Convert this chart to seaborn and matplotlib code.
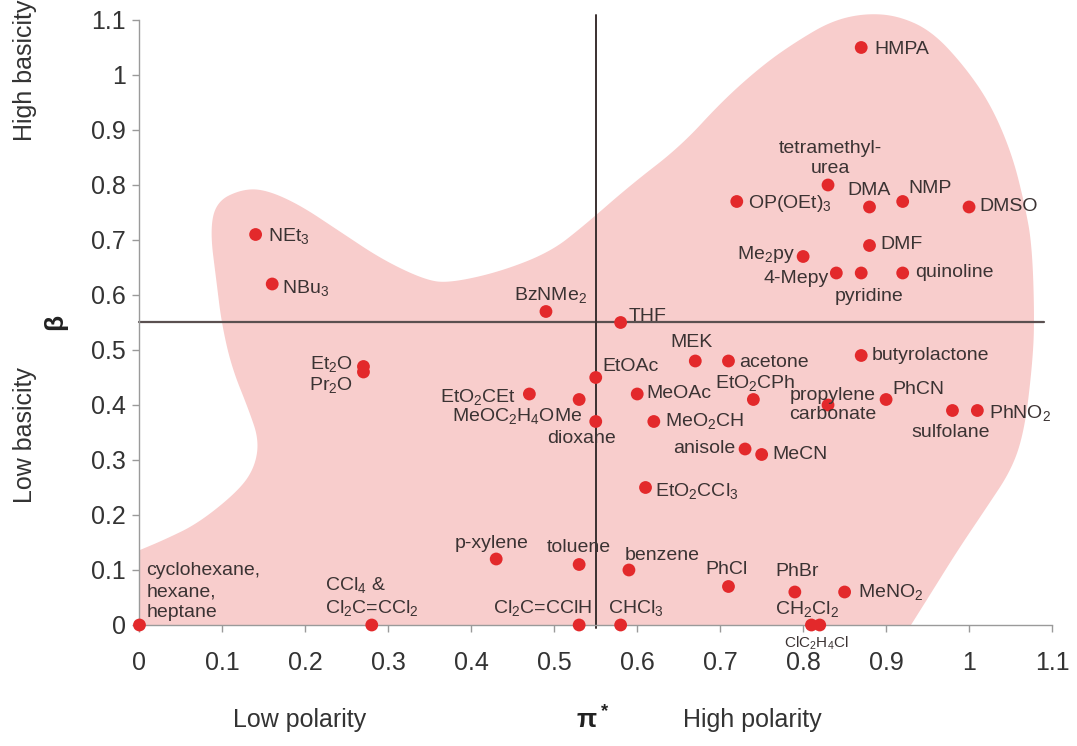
import numpy as np
import pandas as pd
import matplotlib
matplotlib.use("Agg")
import matplotlib.pyplot as plt
import seaborn as sns

# Kamlet-Taft solvent parameters: pi* (polarity) and beta (basicity)
solvents = [
    "cyclohexane", "CCl4", "p-xylene", "toluene", "benzene", "Cl2C=CClH", "CHCl3",
    "PhCl", "PhBr", "MeNO2", "CH2Cl2", "ClC2H4Cl", "MeCN", "anisole", "EtO2CCl3",
    "MeO2CH", "MeOAc", "EtO2CPh", "acetone", "MEK", "EtOAc", "dioxane",
    "MeOC2H4OMe", "EtO2CEt", "Et2O", "Pr2O", "NEt3", "NBu3", "BzNMe2", "THF",
    "HMPA", "OP(OEt)3", "tetramethylurea", "DMA", "NMP", "DMSO", "DMF", "Me2py",
    "4-Mepy", "pyridine", "quinoline", "butyrolactone", "propylene carbonate",
    "PhCN", "sulfolane", "PhNO2",
]
pi_star = [
    0.00, 0.28, 0.43, 0.53, 0.59, 0.53, 0.58,
    0.71, 0.79, 0.85, 0.82, 0.81, 0.75, 0.73, 0.61,
    0.62, 0.60, 0.74, 0.71, 0.67, 0.55, 0.55,
    0.53, 0.47, 0.27, 0.27, 0.14, 0.16, 0.49, 0.58,
    0.87, 0.72, 0.83, 0.88, 0.92, 1.00, 0.88, 0.80,
    0.84, 0.87, 0.92, 0.87, 0.83,
    0.90, 0.98, 1.01,
]
beta = [
    0.00, 0.00, 0.12, 0.11, 0.10, 0.00, 0.00,
    0.07, 0.06, 0.06, 0.00, 0.00, 0.31, 0.32, 0.25,
    0.37, 0.42, 0.41, 0.48, 0.48, 0.45, 0.37,
    0.41, 0.42, 0.47, 0.46, 0.71, 0.62, 0.57, 0.55,
    1.05, 0.77, 0.80, 0.76, 0.77, 0.76, 0.69, 0.67,
    0.64, 0.64, 0.64, 0.49, 0.40,
    0.41, 0.39, 0.39,
]
labels = {
    "cyclohexane": "cyclohexane,\nhexane,\nheptane",
    "CCl4": "CCl$_4$ &\nCl$_2$C=CCl$_2$",
    "Cl2C=CClH": "Cl$_2$C=CClH",
    "CHCl3": "CHCl$_3$",
    "MeNO2": "MeNO$_2$",
    "CH2Cl2": "CH$_2$Cl$_2$",
    "ClC2H4Cl": "ClC$_2$H$_4$Cl",
    "EtO2CCl3": "EtO$_2$CCl$_3$",
    "MeO2CH": "MeO$_2$CH",
    "EtO2CPh": "EtO$_2$CPh",
    "MeOC2H4OMe": "MeOC$_2$H$_4$OMe",
    "EtO2CEt": "EtO$_2$CEt",
    "Et2O": "Et$_2$O",
    "Pr2O": "Pr$_2$O",
    "NEt3": "NEt$_3$",
    "NBu3": "NBu$_3$",
    "BzNMe2": "BzNMe$_2$",
    "OP(OEt)3": "OP(OEt)$_3$",
    "tetramethylurea": "tetramethyl-\nurea",
    "Me2py": "Me$_2$py",
    "propylene carbonate": "propylene\ncarbonate",
    "PhNO2": "PhNO$_2$",
}

# outline of the shaded solvent region (pi*, beta)
blob_pi = [0.0, 0.03, 0.071, 0.12, 0.139, 0.144, 0.132, 0.111, 0.099, 0.093,
           0.085, 0.093, 0.123, 0.151, 0.192, 0.241, 0.293, 0.345, 0.374, 0.434,
           0.495, 0.535, 0.592, 0.652, 0.704, 0.753, 0.793, 0.834, 0.874, 0.914,
           0.955, 0.995, 1.027, 1.052, 1.067, 1.076, 1.079, 1.076, 1.067, 1.052,
           1.019, 0.986, 0.955, 0.93]
blob_beta = [0.136, 0.155, 0.185, 0.245, 0.287, 0.336, 0.39, 0.469, 0.549, 0.622,
             0.718, 0.770, 0.792, 0.792, 0.765, 0.716, 0.664, 0.627, 0.622, 0.642,
             0.678, 0.725, 0.80, 0.87, 0.955, 1.02, 1.062, 1.098, 1.112, 1.108,
             1.08, 1.015, 0.944, 0.855, 0.765, 0.691, 0.551, 0.469, 0.356, 0.284,
             0.209, 0.135, 0.06, 0.0]

pi_mid = 0.55
beta_mid = 0.55
tick_vals = [0, 0.1, 0.2, 0.3, 0.4, 0.5, 0.6, 0.7, 0.8, 0.9, 1.0, 1.1]
tick_text = ["0", "0.1", "0.2", "0.3", "0.4", "0.5", "0.6", "0.7", "0.8", "0.9", "1", "1.1"]

# label placement: offset in pixels from the point, horizontal / vertical alignment
label_pos = {
    "cyclohexane": (7, 4, "left", "bottom"),
    "CCl4": (-47, 7, "left", "bottom"),
    "p-xylene": (-5, 15, "center", "center"),
    "toluene": (0, 17, "center", "center"),
    "benzene": (-4, 14, "left", "center"),
    "Cl2C=CClH": (13, 17, "right", "center"),
    "CHCl3": (-13, 17, "left", "center"),
    "PhCl": (-2, 17, "center", "center"),
    "PhBr": (2, 20, "center", "center"),
    "MeNO2": (13, 0, "left", "center"),
    "CH2Cl2": (-13, 16, "center", "center"),
    "ClC2H4Cl": (5, -18, "center", "center"),
    "MeCN": (11, 0, "left", "center"),
    "anisole": (-10, 0, "right", "center"),
    "EtO2CCl3": (9, -4, "left", "center"),
    "MeO2CH": (11, 0, "left", "center"),
    "MeOAc": (9, 0, "left", "center"),
    "EtO2CPh": (2, 16, "center", "center"),
    "acetone": (11, -2, "left", "center"),
    "MEK": (-4, 18, "center", "center"),
    "EtOAc": (7, 11, "left", "center"),
    "dioxane": (-14, -17, "center", "center"),
    "MeOC2H4OMe": (3, -17, "right", "center"),
    "EtO2CEt": (-13, -3, "right", "center"),
    "Et2O": (-11, 2, "right", "center"),
    "Pr2O": (-11, -13, "right", "center"),
    "NEt3": (12, -2, "left", "center"),
    "NBu3": (10, -4, "left", "center"),
    "BzNMe2": (5, 16, "center", "center"),
    "THF": (8, 6, "left", "center"),
    "HMPA": (13, -2, "left", "center"),
    "OP(OEt)3": (11, -2, "left", "center"),
    "tetramethylurea": (2, 8, "center", "bottom"),
    "DMA": (0, 16, "center", "center"),
    "NMP": (6, 13, "left", "center"),
    "DMSO": (10, 0, "left", "center"),
    "DMF": (11, 1, "left", "center"),
    "Me2py": (-8, 2, "right", "center"),
    "4-Mepy": (-8, -6, "right", "center"),
    "pyridine": (8, -24, "center", "center"),
    "quinoline": (12, 0, "left", "center"),
    "butyrolactone": (10, 0, "left", "center"),
    "propylene carbonate": (5, 0, "center", "center"),
    "PhCN": (6, 10, "left", "center"),
    "sulfolane": (-2, -22, "center", "center"),
    "PhNO2": (12, -3, "left", "center"),
}


def chaikin(xs, ys, n=3):
    pts = np.column_stack([xs, ys]).astype(float)
    for _ in range(n):
        q = 0.75 * pts[:-1] + 0.25 * pts[1:]
        r = 0.25 * pts[:-1] + 0.75 * pts[1:]
        mid = np.empty((2 * len(q), 2))
        mid[0::2] = q
        mid[1::2] = r
        pts = np.vstack([pts[0], mid, pts[-1]])
    return pts


sns.set_style("ticks")
plt.rcParams["font.family"] = ["Liberation Sans", "DejaVu Sans"]
plt.rcParams["mathtext.default"] = "regular"

df = pd.DataFrame({"solvent": solvents, "pi_star": pi_star, "beta": beta})

fig = plt.figure(figsize=(10.77, 7.46), dpi=100)
ax = fig.add_axes([0.1295, 0.1622, 0.8473, 0.811])

# shaded region
outline = chaikin(blob_pi, blob_beta, 4)
outline = np.vstack([outline, [0.0, 0.0]])
ax.fill(outline[:, 0], outline[:, 1], color="#F8CDCC", lw=0, zorder=1, clip_on=False)

# quadrant lines
ax.plot([0, 1.09], [beta_mid, beta_mid], color="#5a5050", lw=1.6, zorder=2, clip_on=False)
ax.axvline(pi_mid, ymin=-0.005, ymax=1.008, color="#3a3030", lw=1.4, zorder=2, clip_on=False)

sns.scatterplot(data=df, x="pi_star", y="beta", color="#E3292B", s=85,
                edgecolor="none", zorder=4, clip_on=False, ax=ax, legend=False)

for name, px, by in zip(solvents, pi_star, beta):
    dx, dy, ha, va = label_pos[name]
    size = 11 if name == "ClC2H4Cl" else 14
    spacing = 1.3 if name == "cyclohexane" else 1.2
    ax.annotate(labels.get(name, name), (px, by), xytext=(dx, dy),
                textcoords="offset pixels", ha=ha, va=va, fontsize=size,
                color="#3b3333", linespacing=spacing, zorder=5)

ax.set_xlim(0, 1.1)
ax.set_ylim(0, 1.1)
ax.set_xticks(tick_vals)
ax.set_xticklabels(tick_text)
ax.set_yticks(tick_vals)
ax.set_yticklabels(tick_text)
ax.tick_params(axis="both", length=5, width=1, color="#9a9a9a",
               labelsize=18, labelcolor="#333333")
ax.tick_params(axis="x", pad=14)
ax.tick_params(axis="y", pad=5)
ax.set_xlabel("")
ax.set_ylabel("")
for side in ["top", "right"]:
    ax.spines[side].set_visible(False)
for side in ["left", "bottom"]:
    ax.spines[side].set_color("#9a9a9a")
    ax.spines[side].set_linewidth(1)

# axis captions
fig.text(300 / 1077, 1 - 720 / 746, "Low polarity", fontsize=18, color="#333333",
         ha="center", va="center")
fig.text(593 / 1077, 1 - 720 / 746, "π$^*$", fontsize=19, fontweight="bold",
         color="#222222", ha="center", va="center")
fig.text(752 / 1077, 1 - 720 / 746, "High polarity", fontsize=18, color="#333333",
         ha="center", va="center")
fig.text(25 / 1077, 1 - 70 / 746, "High basicity", fontsize=18, color="#333333",
         ha="center", va="center", rotation=90)
fig.text(55 / 1077, 1 - 322 / 746, "β", fontsize=19, fontweight="bold",
         color="#222222", ha="center", va="center", rotation=90)
fig.text(25 / 1077, 1 - 435 / 746, "Low basicity", fontsize=18, color="#333333",
         ha="center", va="center", rotation=90)

fig.savefig("out.png", dpi=100)
